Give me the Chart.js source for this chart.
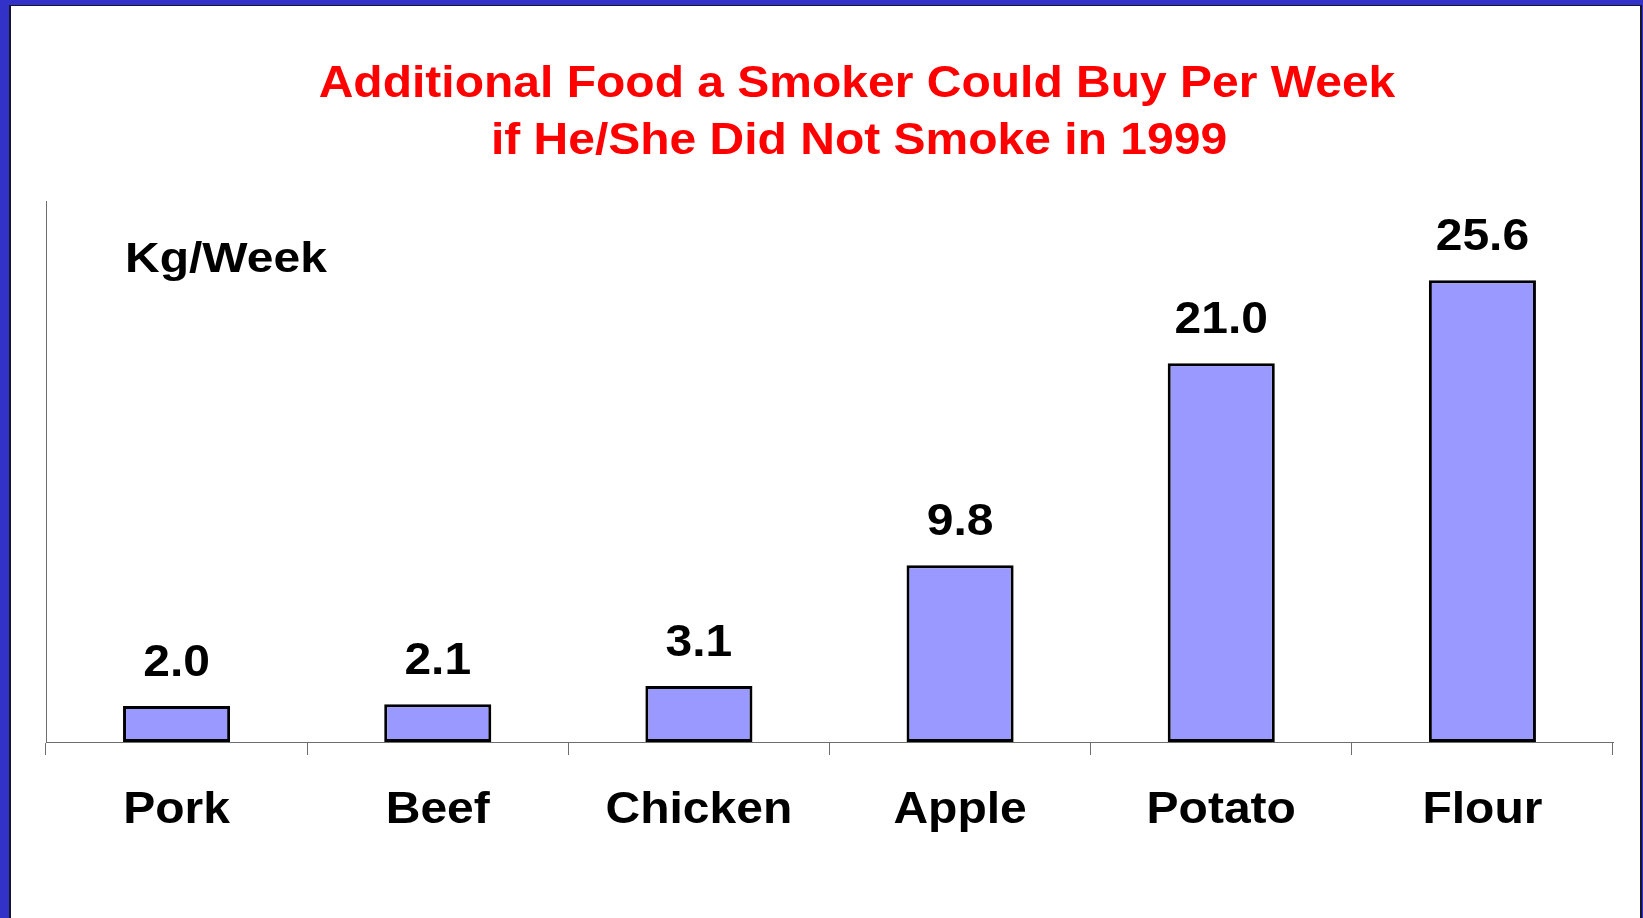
<!DOCTYPE html>
<html>
<head>
<meta charset="utf-8">
<title>Additional Food a Smoker Could Buy Per Week</title>
<script src="https://cdn.jsdelivr.net/npm/chart.js@4/dist/chart.umd.min.js"></script>
<style>
    html, body { margin: 0; padding: 0; background: #3232c8; overflow: hidden; }
    #frame {
        position: absolute; left: 9px; top: 5px; width: 1633px; height: 940px;
        box-sizing: border-box; background: #fff;
        border-left: 2px solid #151530; border-right: 2px solid #151530; border-top: 1px solid #151530;
    }
    #food-chart { position: absolute; left: 0; top: 0; }
</style>
</head>
<body>
<div id="frame"></div>
<canvas id="food-chart" width="1643" height="918"></canvas>
<script>
// Dados do gráfico
const titleLines = ['Additional Food a Smoker Could Buy Per Week', 'if He/She Did Not Smoke in 1999'];
const unitLabel = 'Kg/Week';
const foods = ['Pork', 'Beef', 'Chicken', 'Apple', 'Potato', 'Flour'];
const kgPerWeek = [2.0, 2.1, 3.1, 9.8, 21.0, 25.6];
const yMax = 30;

const FONT = '"Liberation Sans", Arial, sans-serif';
const AXIS_COLOR = '#6e6e6e';

// Texto um pouco esticado na horizontal, como no slide original
function drawText(ctx, text, x, y, size, color, align) {
    ctx.save();
    ctx.font = 'bold ' + size + 'px ' + FONT;
    ctx.fillStyle = color;
    ctx.textAlign = align;
    ctx.textBaseline = 'alphabetic';
    ctx.translate(x, y);
    ctx.scale(48 / size, 1);
    ctx.fillText(text, 0, 0);
    ctx.restore();
}

const textPlugin = {
    id: 'slideText',
    afterDatasetsDraw(chart) {
        const ctx = chart.ctx;
        const meta = chart.getDatasetMeta(0);
        meta.data.forEach((bar, i) => {
            drawText(ctx, kgPerWeek[i].toFixed(1), bar.x, bar.y - 30, 44, '#000', 'center');
        });
    },
    afterDraw(chart) {
        const ctx = chart.ctx;
        const xScale = chart.scales.x;

        drawText(ctx, titleLines[0], 857, 97, 45, '#ff0000', 'center');
        drawText(ctx, titleLines[1], 859, 154, 45, '#ff0000', 'center');
        drawText(ctx, unitLabel, 125, 272, 43, '#000', 'left');

        foods.forEach((name, i) => {
            drawText(ctx, name, xScale.getPixelForValue(i), 823, 44, '#000', 'center');
        });
    }
};

const ctx = document.getElementById('food-chart').getContext('2d');
const myChart = new Chart(ctx, {
    type: 'bar',
    data: {
        labels: foods,
        datasets: [{
            label: unitLabel,
            data: kgPerWeek,
            backgroundColor: '#9999ff',
            borderColor: '#000000',
            borderWidth: 3,
            borderSkipped: false,
            barPercentage: 0.41,
            categoryPercentage: 1
        }]
    },
    options: {
        responsive: false,
        devicePixelRatio: 1,
        animation: false,
        layout: { padding: { left: 46, right: 30, top: 201, bottom: 0 } },
        plugins: {
            legend: { display: false },
            title: { display: false },
            tooltip: { enabled: false }
        },
        scales: {
            x: {
                grid: {
                    display: true,
                    drawOnChartArea: false,
                    drawTicks: true,
                    tickLength: 13,
                    offset: true,
                    color: AXIS_COLOR,
                    lineWidth: 1
                },
                border: { display: true, color: AXIS_COLOR, width: 1 },
                ticks: { display: false },
                afterFit(scale) { scale.height = 176; }
            },
            y: {
                min: 0,
                max: yMax,
                grid: { display: false },
                border: { display: true, color: AXIS_COLOR, width: 1 },
                ticks: { display: false },
                afterFit(scale) { scale.width = 0; }
            }
        }
    },
    plugins: [textPlugin]
});
</script>
</body>
</html>
